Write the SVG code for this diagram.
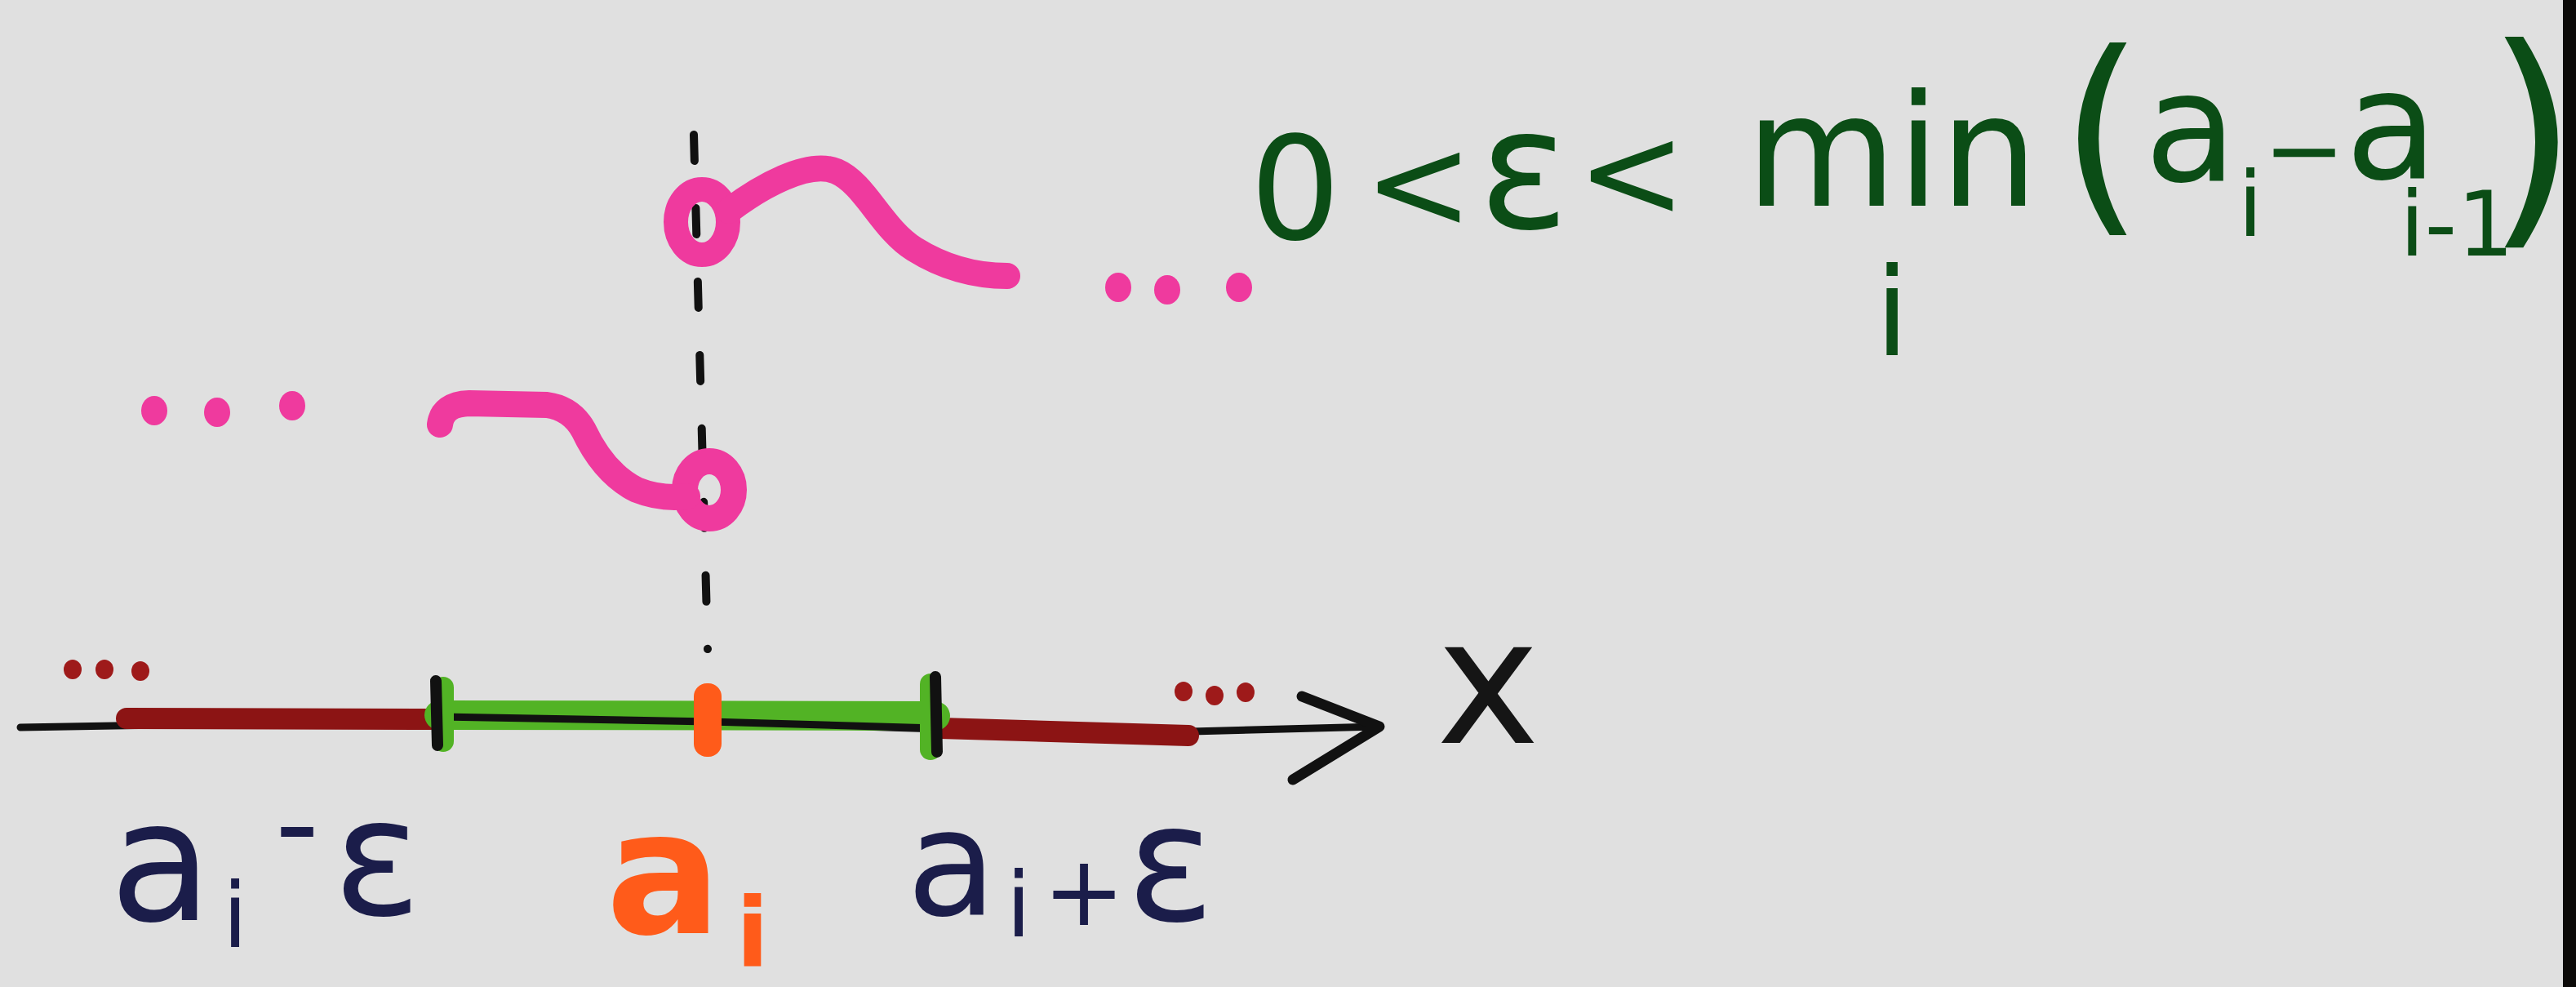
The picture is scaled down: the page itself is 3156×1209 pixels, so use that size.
<svg xmlns="http://www.w3.org/2000/svg" width="3156" height="1209" viewBox="0 0 3156 1209">
<style>
.t{font-family:"DejaVu Sans","Liberation Sans",sans-serif;text-anchor:middle}
.g{fill:#0b4d16}
.n{fill:#1b1d4a}
.o{fill:#ff5b1a;font-weight:bold}
.k{fill:#151515}
.pk{fill:none;stroke:#ef3a9e;stroke-linecap:round;stroke-linejoin:round}
.pd{fill:#ef3a9e}
.rd{fill:#9e1a1a}
.ln{fill:none;stroke-linecap:round;stroke-linejoin:round}
</style>
<rect width="3156" height="1209" fill="#e0e0e0"/>
<rect x="3140" y="0" width="16" height="1209" fill="#0c0a08"/>

<g id="connectors">
  <path id="dashed-guide" class="ln" d="M850 165 L867 795" stroke="#111" stroke-width="10" stroke-dasharray="32 58" stroke-linecap="butt"/>
</g>

<g id="axis">
  <path class="ln" d="M25 891 L535 882 L870 884 L1150 893 L1460 896 L1688 890" stroke="#111" stroke-width="9"/>
  <path class="ln" d="M155 880 L528 881" stroke="#8c1414" stroke-width="26" stroke-linecap="butt"/>
  <path class="ln" d="M1152 892 L1456 901" stroke="#8c1414" stroke-width="26" stroke-linecap="butt"/>
  <path class="ln" d="M538 876 L1146 877" stroke="#52b325" stroke-width="36" stroke-linecap="butt"/>
  <path class="ln" d="M540 878 L870 884 L1146 892" stroke="#111" stroke-width="9"/>
  <path class="ln" d="M543 842 L543 908" stroke="#52b325" stroke-width="26"/>
  <path class="ln" d="M1140 838 L1140 918" stroke="#52b325" stroke-width="26"/>
  <path class="ln" d="M534 834 L536 913" stroke="#111" stroke-width="14"/>
  <path class="ln" d="M1146 829 L1148 921" stroke="#111" stroke-width="14"/>
  <rect x="850" y="837" width="34" height="90" rx="16" fill="#ff5b1a"/>
  <polyline class="ln" points="1595,853 1690,890 1584,955" stroke="#111" stroke-width="13"/>
  <ellipse class="rd" cx="89" cy="820" rx="11" ry="12"/>
  <ellipse class="rd" cx="128" cy="820" rx="11" ry="12"/>
  <ellipse class="rd" cx="172" cy="822" rx="11" ry="12"/>
  <ellipse class="rd" cx="1450" cy="847" rx="11" ry="12"/>
  <ellipse class="rd" cx="1488" cy="852" rx="11" ry="12"/>
  <ellipse class="rd" cx="1526" cy="848" rx="11" ry="12"/>
  <text class="t k" x="1823" y="910" font-size="214">x</text>
</g>

<g id="upper-branch">
  <ellipse class="pk" cx="860" cy="272" rx="32" ry="40" stroke-width="30"/>
  <path class="pk" d="M893 258 C 930 230, 990 195, 1025 210 C 1060 225, 1080 280, 1120 305 C 1160 330, 1200 338, 1234 338" stroke-width="32"/>
  <ellipse class="pd" cx="1370" cy="352" rx="16" ry="18"/>
  <ellipse class="pd" cx="1430" cy="355" rx="16" ry="18"/>
  <ellipse class="pd" cx="1518" cy="352" rx="16" ry="18"/>
</g>

<g id="lower-branch">
  <ellipse class="pk" cx="869" cy="600" rx="30" ry="35" stroke-width="32"/>
  <path class="pk" d="M539 520 Q 542 495 575 494 L 670 496 Q 700 500 715 527 Q 740 580 780 600 Q 810 612 842 608" stroke-width="32"/>
  <ellipse class="pd" cx="189" cy="503" rx="16" ry="18"/>
  <ellipse class="pd" cx="266" cy="505" rx="16" ry="18"/>
  <ellipse class="pd" cx="358" cy="497" rx="16" ry="18"/>
</g>

<g id="label-left">
  <text class="t n"><tspan x="197" y="1127" font-size="205">a</tspan><tspan x="288" y="1160" font-size="110">i</tspan><tspan x="364" y="1060" font-size="150">-</tspan><tspan x="462" y="1120" font-size="200">ε</tspan></text>
</g>

<g id="label-center">
  <text class="t o"><tspan x="813" y="1143" font-size="210">a</tspan><tspan x="922" y="1184" font-size="118">i</tspan></text>
</g>

<g id="label-right">
  <text class="t n"><tspan x="1166" y="1120" font-size="180">a</tspan><tspan x="1248" y="1147" font-size="110">i</tspan><tspan x="1328" y="1133" font-size="120">+</tspan><tspan x="1434" y="1127" font-size="200">ε</tspan></text>
</g>

<g id="formula">
  <text class="t g"><tspan x="1587" y="293" font-size="175">0</tspan><tspan x="1738" y="280" font-size="160">&lt;</tspan><tspan x="1867" y="279" font-size="205">ε</tspan><tspan x="1999" y="266" font-size="160">&lt;</tspan><tspan x="2318" y="252" font-size="190">min</tspan><tspan x="2575" y="253" font-size="265">(</tspan><tspan x="2684" y="221" font-size="185">a</tspan><tspan x="2757" y="289" font-size="110">i</tspan><tspan x="2823" y="225" font-size="120">−</tspan><tspan x="2930" y="218" font-size="185">a</tspan><tspan x="3010" y="313" font-size="110">i-1</tspan><tspan x="3102" y="265" font-size="290">)</tspan></text>
  <text class="t g" x="2318" y="435" font-size="150">i</text>
</g>
</svg>
